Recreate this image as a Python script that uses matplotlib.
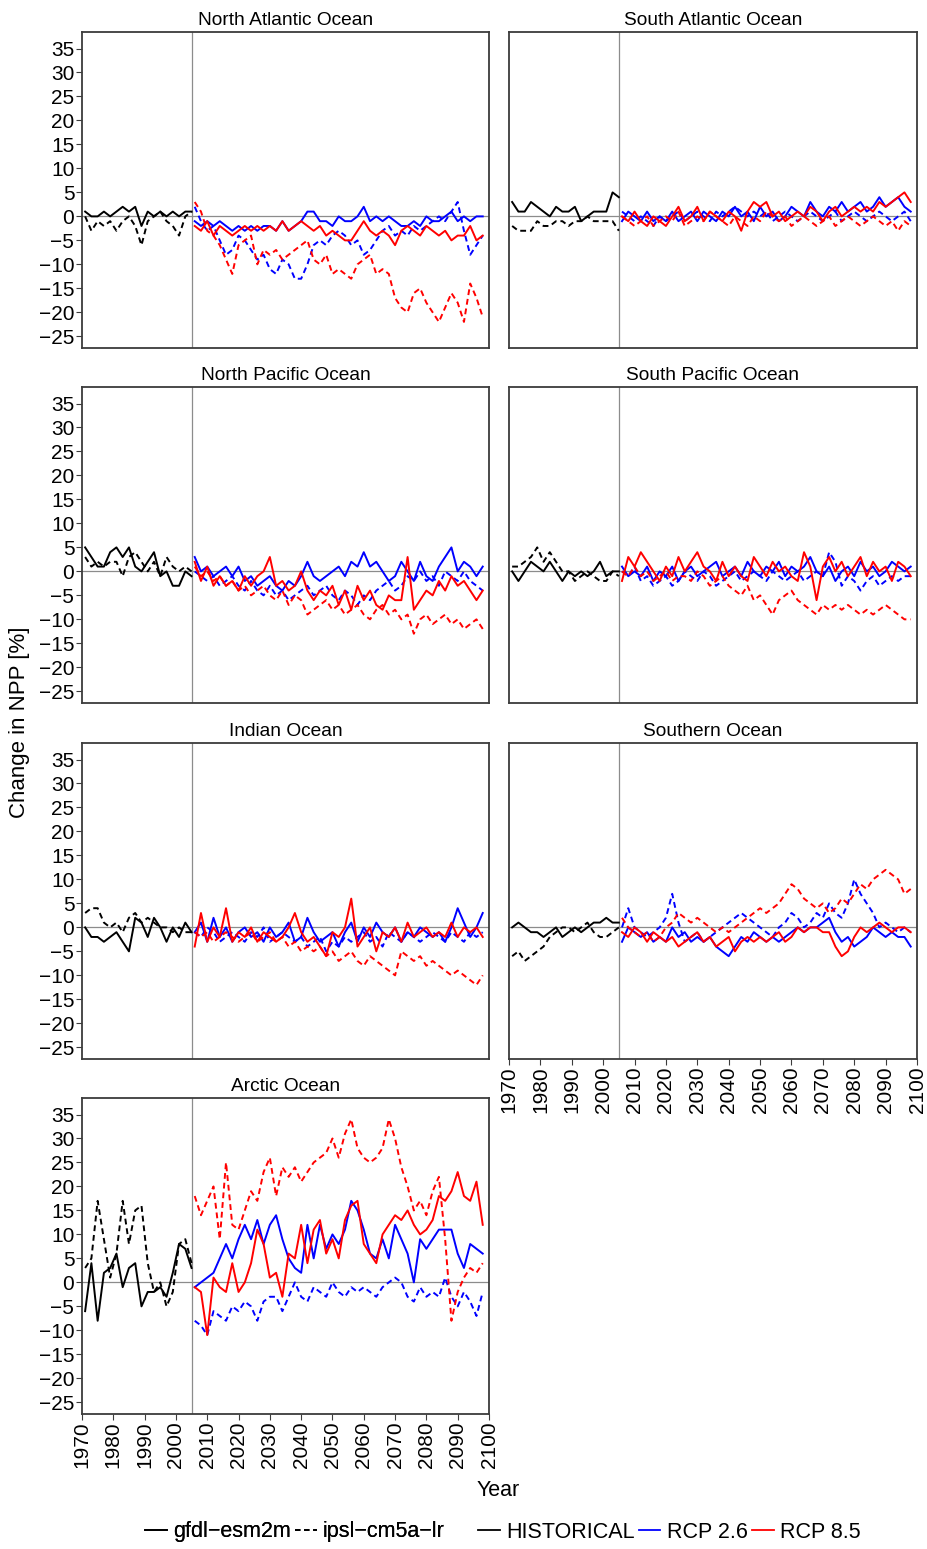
import numpy as np
import matplotlib
matplotlib.use("Agg")
import matplotlib.pyplot as plt
from matplotlib.lines import Line2D

plt.rcParams['font.family'] = ['Liberation Sans', 'DejaVu Sans']

# sampling: historical every 2 years from 1971, scenarios every 2 years from 2006
hist_start = 1971
rcp_start = 2006
step = 2

# North Atlantic
natl_hist_gfdl = [1, 0, 0, 1, 0, 1, 2, 1, 2, -2, 1, 0, 1, 0, 1, 0, 1, 1]
natl_hist_ipsl = [0, -3, -1, -2, -1, -3, -1, 0, -2, -6, -1, 0, 1, -1, -2, -4, 0, 1]
natl_rcp26_gfdl = [-1, -2, -1, -2, -1, -2, -3, -2, -3, -2, -3, -2, -2, -3, -1, -3, -2, -1, 1, 1,
                   -1, -1, -2, 0, -1, -1, 0, 2, -1, 0, -1, 0, -1, -2, -2, -1, -2, 0, -1, -1,
                   0, 1, -1, 0, -1, 0, 0]
natl_rcp26_ipsl = [2, -1, -3, -2, -5, -8, -7, -4, -5, -7, -9, -8, -11, -12, -9, -10, -13, -13, -10, -6,
                   -5, -6, -4, -3, -4, -6, -5, -8, -7, -5, -3, -2, -4, -3, -4, -2, -3, -2, -1, 0,
                   -1, 1, 3, -3, -8, -6, -4]
natl_rcp85_gfdl = [-2, -3, -1, -4, -2, -3, -4, -3, -2, -3, -2, -3, -2, -3, -1, -3, -2, -1, -2, -3,
                   -2, -4, -3, -4, -5, -5, -3, -1, -3, -4, -3, -4, -6, -3, -2, -3, -4, -2, -3, -4,
                   -3, -5, -4, -4, -2, -5, -4]
natl_rcp85_ipsl = [3, 1, -3, -4, -6, -9, -12, -6, -5, -4, -10, -7, -8, -7, -9, -8, -7, -6, -5, -9,
                   -10, -8, -12, -11, -12, -13, -10, -9, -8, -12, -11, -12, -17, -19, -20, -16, -15, -18, -20, -22,
                   -19, -16, -18, -22, -14, -17, -21]

# South Atlantic
satl_hist_gfdl = [3, 1, 1, 3, 2, 1, 0, 2, 1, 1, 2, -1, 0, 1, 1, 1, 5, 4]
satl_hist_ipsl = [-2, -3, -3, -3, -1, -2, -2, -1, -1, -2, -1, -1, 0, -1, -1, -1, -1, -3]
satl_rcp26_gfdl = [-1, 1, 0, -1, 1, -1, 0, -1, 1, -1, 0, 1, -1, 1, 0, -1, 1, 0, 2, 0,
                   1, -1, 2, 0, 1, -1, 0, 2, 1, 0, 3, 1, 0, 2, 1, 3, 1, 2, 3, 1,
                   2, 4, 2, 3, 4, 2, 1]
satl_rcp26_ipsl = [1, 0, -1, 0, -1, -2, 0, -1, 0, 1, -1, 0, 1, 0, -1, 1, 0, 1, 2, 1,
                   0, 1, 0, 1, -1, 0, 1, 0, -1, 0, 1, 0, -1, 0, 1, -1, 0, 1, 0, -1,
                   0, 1, 0, -1, 0, 1, -1]
satl_rcp85_gfdl = [0, -1, 1, -1, -2, 0, -1, -2, 0, 2, -1, 0, 2, -1, 1, 0, -1, 1, 0, -3,
                   1, 3, 2, 3, 0, 1, -1, 0, 1, 0, 2, 1, -1, 1, 2, 0, 1, 2, 1, 2,
                   1, 3, 2, 3, 4, 5, 3]
satl_rcp85_ipsl = [0, -1, -2, -1, 0, -2, -1, 0, -1, 1, -2, -1, 0, -1, 1, 0, -1, -2, 0, -1,
                   -2, 0, -1, 1, 0, -1, 0, -2, -1, 0, -1, -2, -1, 0, -2, -1, 0, -1, -2, -1,
                   0, -1, -2, -1, -3, -1, -2]

# North Pacific
npac_hist_gfdl = [5, 3, 1, 1, 4, 5, 3, 5, 1, 0, 2, 4, -1, 0, -3, -3, 0, -1]
npac_hist_ipsl = [3, 1, 2, 1, 2, 2, -1, 3, 4, 2, 0, 2, -1, 3, 1, 0, 1, 0]
npac_rcp26_gfdl = [3, 0, 1, -1, 0, 1, -1, 1, -2, -1, -3, -2, -1, -3, -4, -2, -3, -1, 2, -1,
                   -2, -1, 0, 1, -1, 2, 1, 4, 1, 2, 0, -2, -1, 2, 0, -2, 2, -1, -2, 1,
                   3, 5, 0, 2, 1, -1, 1]
npac_rcp26_ipsl = [0, -1, -2, -1, -3, -2, -1, -3, -4, -2, -4, -5, -3, -5, -4, -6, -5, -4, -3, -5,
                   -4, -3, -5, -6, -4, -5, -7, -5, -6, -4, -3, -2, -4, -3, -1, -2, 0, -2, -1, -3,
                   0, -1, -2, 0, -2, -3, -4]
npac_rcp85_gfdl = [2, -2, 1, -3, -1, -3, -2, -4, -1, -3, -1, 0, 3, -3, -2, -4, -3, 0, -4, -6,
                   -4, -5, -3, -7, -4, -8, -3, -6, -4, -7, -8, -5, -6, -6, 3, -8, -6, -4, -5, -2,
                   -4, -1, -3, -2, -4, -6, -4]
npac_rcp85_ipsl = [1, -1, 0, -2, -1, -3, -2, -4, -3, -5, -4, -3, -5, -6, -4, -7, -5, -6, -9, -8,
                   -7, -6, -8, -7, -9, -8, -7, -9, -10, -8, -7, -9, -8, -10, -9, -13, -10, -9, -11, -10,
                   -9, -11, -10, -12, -11, -10, -12]

# South Pacific
spac_hist_gfdl = [0, -2, 0, 2, 1, 0, 2, 0, -2, 0, -1, 0, -1, 0, 2, -1, 0, 0]
spac_hist_ipsl = [1, 1, 2, 3, 5, 2, 4, 2, 0, 0, -2, -1, 0, -1, -2, -2, 0, -1]
spac_rcp26_gfdl = [1, -1, 0, -1, 1, -2, 0, -1, 1, -2, 0, 1, -1, 0, 1, 2, -1, 0, 1, -1,
                   2, 0, -1, 1, 0, 2, -1, 1, 0, 1, 3, 0, -1, 1, -2, 0, 1, -1, 2, 0,
                   1, -1, 0, 2, 1, 0, 1]
spac_rcp26_ipsl = [0, -1, 1, -2, -1, -3, -2, -1, -3, -2, 0, -1, -2, 0, -1, -3, -2, -1, 0, -2,
                   -1, 0, -1, -2, 0, -1, -2, -1, 0, -2, -1, 0, -1, 4, 2, -3, -1, -2, -4, -2,
                   -1, -3, -2, -1, -2, -1, -1]
spac_rcp85_gfdl = [-2, 3, 1, 4, 2, 0, -2, 1, -1, 3, 0, 2, 4, 1, 0, -2, 2, -1, 1, -1,
                   -2, 3, 1, -1, 2, 0, 1, -1, -2, 4, 1, -6, 1, 3, 0, 2, -1, 1, 3, -1,
                   2, 0, 1, -2, 2, 1, -1]
spac_rcp85_ipsl = [0, -1, 1, -1, 0, -2, -1, 0, -2, -1, -1, -2, 0, -1, -3, -2, -1, -3, -4, -5,
                   -3, -6, -5, -7, -9, -6, -5, -4, -6, -7, -8, -9, -7, -8, -7, -8, -7, -8, -9, -8,
                   -9, -8, -7, -8, -9, -10, -10]

# Indian
ind_hist_gfdl = [0, -2, -2, -3, -2, -1, -3, -5, 2, 1, -2, 2, 0, -3, 0, -2, 1, -1]
ind_hist_ipsl = [3, 4, 4, 1, 0, 1, -1, 2, 3, 1, 2, 1, 0, 0, -1, 0, -1, -1]
ind_rcp26_gfdl = [-1, 1, -3, 2, -2, 0, -3, -1, 0, -2, -1, -3, 0, -2, -1, 1, -3, -2, 2, -1,
                  -3, -2, -1, -4, -1, 1, -3, 0, -2, 1, -1, -2, 0, -3, -1, -2, 0, -1, -2, -1,
                  -3, 0, 4, 1, -2, 0, 3]
ind_rcp26_ipsl = [-1, -2, 0, -1, -3, -2, -1, -2, -3, -1, -2, 0, -3, -2, -1, -2, -3, -2, -4, -3,
                  -2, -5, -3, -4, -2, -3, -2, -1, -3, -2, -4, -1, -2, -3, -1, -2, -3, -2, -1, -2,
                  -3, -1, -2, -3, -1, -2, -1]
ind_rcp85_gfdl = [-4, 3, -3, 0, -2, 4, -3, -1, -2, 0, -3, -1, -2, -3, -2, 0, 3, -1, -3, -2,
                  -4, -6, -1, -2, 0, 6, -4, -2, 0, -5, -1, -2, 0, -3, 1, -2, -1, 0, -2, -1,
                  -2, 1, -2, 0, -1, 0, -2]
ind_rcp85_ipsl = [-1, -2, -1, -3, -2, -1, -2, -3, -2, -1, -3, -2, -1, -3, -2, -4, -3, -5, -4, -5,
                  -4, -6, -5, -7, -6, -5, -7, -8, -6, -7, -8, -9, -10, -5, -6, -7, -6, -8, -7, -8,
                  -9, -10, -9, -10, -11, -12, -10]

# Southern
so_hist_gfdl = [0, 1, 0, -1, -1, -2, -1, 0, -2, -1, 0, -1, 0, 1, 1, 2, 1, 1]
so_hist_ipsl = [-6, -5, -7, -6, -5, -4, -2, -1, 0, 0, -1, 0, 1, -1, -2, -2, -1, 0]
so_rcp26_gfdl = [-3, 0, -1, -2, -1, -3, -2, -3, 0, -2, -1, -3, -2, -3, -2, -4, -5, -6, -4, -2,
                 -3, -1, -2, -3, -2, -3, -2, -1, 0, -1, 0, 0, 1, 2, -1, -3, -2, -4, -3, -2,
                 0, -1, -2, -1, -2, -2, -4]
so_rcp26_ipsl = [0, 4, 0, -1, -2, -1, 0, 2, 7, 1, -3, -2, -1, -3, -2, -1, 0, 1, 2, 3,
                 2, 1, 0, -1, -2, 0, 1, 3, 2, 0, 1, 3, 2, 5, 3, 2, 5, 10, 7, 5,
                 3, 0, 1, 0, -1, 0, -1]
so_rcp85_gfdl = [-1, -2, 0, -1, -3, -1, -2, -3, -2, -4, -3, -2, -1, -3, -2, -4, -3, -2, -5, -3,
                 -2, -3, -2, -3, -2, -1, -3, -2, 0, -1, 0, 0, -1, -1, -4, -6, -5, -2, 0, -1,
                 0, 1, 0, -1, 0, 0, -1]
so_rcp85_ipsl = [2, 0, -1, -2, -1, -3, -2, 0, 1, 3, 2, 1, 2, 1, 0, -1, 0, -1, 0, 1,
                 2, 3, 4, 3, 4, 5, 7, 9, 8, 6, 5, 4, 5, 3, 4, 6, 5, 7, 9, 8,
                 10, 11, 12, 11, 10, 7, 8]

# Arctic
arc_hist_gfdl = [-6, 4, -8, 2, 3, 6, -1, 3, 4, -5, -2, -2, -1, -3, 2, 8, 7, 3]
arc_hist_ipsl = [3, 5, 17, 9, 1, 6, 17, 8, 15, 16, 4, -2, 0, -5, -2, 8, 9, 4]
arc_rcp26_gfdl = [-1, 0, 1, 2, 5, 8, 5, 9, 12, 9, 13, 8, 12, 14, 9, 5, 3, 2, 12, 5,
                  12, 7, 10, 8, 11, 17, 15, 11, 6, 5, 9, 5, 12, 9, 6, 0, 9, 7, 9, 11,
                  11, 11, 6, 3, 8, 7, 6]
arc_rcp26_ipsl = [-8, -9, -11, -6, -7, -8, -5, -6, -4, -5, -8, -4, -3, -3, -6, -3, 0, -3, -4, -1,
                  -2, -3, 0, -2, -3, -1, -2, -1, -2, -3, -1, 0, 1, 0, -3, -4, -1, -3, -2, -3,
                  1, -3, -5, -2, -4, -7, -2]
arc_rcp85_gfdl = [-1, -2, -11, 1, -1, -2, 4, -2, 0, 4, 11, 8, 1, 2, -3, 6, 5, 12, 4, 11,
                  13, 6, 9, 5, 13, 16, 17, 8, 6, 4, 10, 12, 14, 13, 15, 12, 10, 11, 13, 18,
                  17, 19, 23, 18, 17, 21, 12]
arc_rcp85_ipsl = [18, 14, 17, 20, 9, 25, 12, 11, 15, 19, 17, 23, 26, 18, 24, 22, 24, 21, 23, 25,
                  26, 27, 30, 26, 31, 34, 28, 26, 25, 26, 28, 34, 30, 24, 20, 15, 17, 14, 19, 22,
                  9, -8, -2, 1, 3, 2, 4]

panel_titles = ["North Atlantic Ocean", "South Atlantic Ocean", "North Pacific Ocean",
                "South Pacific Ocean", "Indian Ocean", "Southern Ocean", "Arctic Ocean"]
panel_data = [
    (natl_hist_gfdl, natl_hist_ipsl, natl_rcp26_gfdl, natl_rcp26_ipsl, natl_rcp85_gfdl, natl_rcp85_ipsl),
    (satl_hist_gfdl, satl_hist_ipsl, satl_rcp26_gfdl, satl_rcp26_ipsl, satl_rcp85_gfdl, satl_rcp85_ipsl),
    (npac_hist_gfdl, npac_hist_ipsl, npac_rcp26_gfdl, npac_rcp26_ipsl, npac_rcp85_gfdl, npac_rcp85_ipsl),
    (spac_hist_gfdl, spac_hist_ipsl, spac_rcp26_gfdl, spac_rcp26_ipsl, spac_rcp85_gfdl, spac_rcp85_ipsl),
    (ind_hist_gfdl, ind_hist_ipsl, ind_rcp26_gfdl, ind_rcp26_ipsl, ind_rcp85_gfdl, ind_rcp85_ipsl),
    (so_hist_gfdl, so_hist_ipsl, so_rcp26_gfdl, so_rcp26_ipsl, so_rcp85_gfdl, so_rcp85_ipsl),
    (arc_hist_gfdl, arc_hist_ipsl, arc_rcp26_gfdl, arc_rcp26_ipsl, arc_rcp85_gfdl, arc_rcp85_ipsl),
]
y_ticks = list(range(-25, 40, 5))
x_ticks = list(range(1970, 2101, 10))

W, H = 927, 1549
fig = plt.figure(figsize=(W / 100, H / 100), dpi=100)

col_x = [82, 509]
col_w = [407, 408]
row_top = [32, 387, 743, 1098]
row_h = 316

lw = 1.4
dash = (3, 2)
frame_col = '#3c3c3c'
ref_col = '#8c8c8c'


def years(start, vals):
    return start + step * np.arange(len(vals))


for i, (title, data) in enumerate(zip(panel_titles, panel_data)):
    col, row = i % 2, i // 2
    ax = fig.add_axes([col_x[col] / W, 1 - (row_top[row] + row_h) / H,
                       col_w[col] / W, row_h / H])
    hg, hi, bg, bi, rg, ri = data

    ax.axhline(0, color=ref_col, lw=0.9, zorder=1)
    ax.axvline(2005, color=ref_col, lw=0.9, zorder=1)

    ax.plot(years(hist_start, hg), hg, color='black', lw=lw)
    ax.plot(years(hist_start, hi), hi, color='black', lw=lw, dashes=dash)
    ax.plot(years(rcp_start, bg), bg, color='#0000ff', lw=lw)
    ax.plot(years(rcp_start, bi), bi, color='#0000ff', lw=lw, dashes=dash)
    ax.plot(years(rcp_start, rg), rg, color='#ff0000', lw=lw)
    ax.plot(years(rcp_start, ri), ri, color='#ff0000', lw=lw, dashes=dash)

    ax.set_xlim(1970, 2100)
    ax.set_ylim(-27.44, 38.44)
    ax.set_title(title, fontsize=13.8, pad=5)

    for s in ax.spines.values():
        s.set_color(frame_col)
        s.set_linewidth(1.3)

    ax.tick_params(direction='out', length=4.5, width=0.8, color=frame_col,
                   labelsize=15, pad=1)
    if col == 0:
        ax.set_yticks(y_ticks)
    else:
        ax.set_yticks([])
    if title in ("Arctic Ocean", "Southern Ocean"):
        ax.set_xticks(x_ticks)
        ax.tick_params(axis='x', labelrotation=90)
    else:
        ax.set_xticks([])

fig.text(20 / W, 1 - 722 / H, 'Change in NPP [%]', rotation=90, fontsize=16,
         ha='center', va='center')
fig.text(498 / W, 1 - 1490 / H, 'Year', fontsize=15.5, ha='center', va='center')

model_handles = [Line2D([], [], color='black', lw=1.3),
                 Line2D([], [], color='black', lw=1.3, dashes=dash)]
leg1 = fig.legend(model_handles, ['gfdl\u2212esm2m', 'ipsl\u2212cm5a\u2212lr'],
                  loc='center left', bbox_to_anchor=(145 / W, 1 - 1532 / H),
                  ncol=2, frameon=False, fontsize=15.5, handlelength=1.0,
                  handletextpad=0.3, columnspacing=0.2, borderpad=0, borderaxespad=0)
scen_handles = [Line2D([], [], color='black', lw=1.3),
                Line2D([], [], color='#0000ff', lw=1.3),
                Line2D([], [], color='#ff0000', lw=1.3)]
fig.legend(scen_handles, ['HISTORICAL', 'RCP 2.6', 'RCP 8.5'],
           loc='center left', bbox_to_anchor=(478 / W, 1 - 1532 / H),
           ncol=3, frameon=False, fontsize=15.5, handlelength=1.0,
           handletextpad=0.3, columnspacing=0.2, borderpad=0, borderaxespad=0)
fig.add_artist(leg1)

fig.savefig('out.png', dpi=100)
